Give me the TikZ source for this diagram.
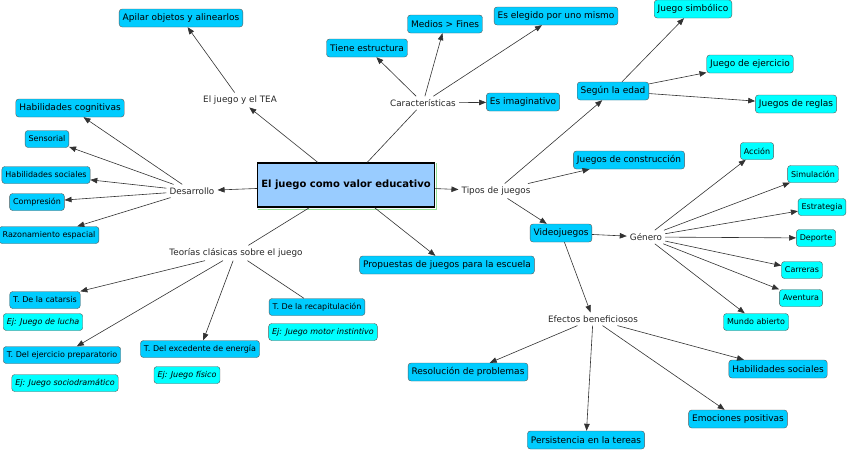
\documentclass[tikz,border=0pt]{standalone}
\usepackage{fontspec}
\setmainfont{DejaVu Sans}
\usetikzlibrary{arrows.meta}
\definecolor{cmBlue}  {RGB}{0,   204, 255}
\definecolor{cmCyan}  {RGB}{0,   255, 255}
\definecolor{cmCore}  {RGB}{153, 204, 255}
\definecolor{cmLine}  {RGB}{50,  50,  50}
\definecolor{cmShadow}{RGB}{150, 225, 150}

\begin{document}
\begin{tikzpicture}[
  x=1pt, y=-1pt,
  box/.style = {
    rectangle, rounded corners=3pt,
    draw=black!65, fill=cmBlue,
    inner xsep=3.5pt, inner ysep=0pt, minimum height=18pt,
    font=\fontsize{9}{10}\selectfont
  },
  small/.style = {box, minimum height=17pt, font=\fontsize{8}{9}\selectfont},
  pale/.style  = {fill=cmCyan},
  ej/.style    = {small, pale, font=\fontsize{8}{9}\selectfont\itshape},
  link/.style  = {inner sep=3pt, text=black!85, font=\fontsize{8.8}{10}\selectfont},
  arr/.style   = {-{Triangle[length=7pt,width=5.5pt]}, cmLine, line width=0.6pt},
  ln/.style    = {cmLine, line width=0.6pt}
]
  \useasboundingbox (0,0) rectangle (848,450);

  % Central concept
  \node[rectangle, draw=black, line width=1.4pt, fill=cmCore,
        minimum width=177pt, minimum height=44pt,
        font=\fontsize{10}{12}\selectfont\bfseries] (c) at (346,185)
        {El juego como valor educativo};
  \draw[cmShadow, line width=1pt]
    ([xshift=1pt,yshift=-1.3pt]c.south west) -- ([xshift=1.3pt,yshift=-1.3pt]c.south east)
    -- ([xshift=1.3pt,yshift=-1pt]c.north east);

  % El juego y el TEA
  \node[link] (tea) at (240,100) {El juego y el TEA};
  \node[box]  (apilar) at (181,18) {Apilar objetos y alinearlos};

  % Caracteristicas
  \node[link] (car) at (423,103) {Características};
  \node[box]  (estr) at (367,48) {Tiene estructura};
  \node[box]  (medios) at (445,24) {Medios > Fines};
  \node[box]  (elegido) at (556,16) {Es elegido por uno mismo};
  \node[box]  (imag) at (523,102) {Es imaginativo};

  % Desarrollo
  \node[link]  (des) at (192,191) {Desarrollo};
  \node[box]   (cogn) at (70,108) {Habilidades cognitivas};
  \node[small] (sens) at (47,139) {Sensorial};
  \node[small] (socA) at (46,175) {Habilidades sociales};
  \node[small] (comp) at (37,202) {Compresión};
  \node[small] (razo) at (49,235) {Razonamiento espacial};

  % Teorias clasicas
  \node[link]  (teo) at (236,253) {Teorías clásicas sobre el juego};
  \node[small] (cata) at (45,300) {T. De la catarsis};
  \node[ej]    (ejA) at (43,322) {Ej: Juego de lucha};
  \node[small] (prep) at (62,355) {T. Del ejercicio preparatorio};
  \node[ej]    (ejB) at (65,383) {Ej: Juego sociodramático};
  \node[small] (exce) at (200,349) {T. Del excedente de energía};
  \node[ej]    (ejC) at (187,375) {Ej: Juego físico};
  \node[small] (reca) at (317,307) {T. De la recapitulación};
  \node[ej]    (ejD) at (323,332) {Ej: Juego motor instintivo};

  \node[box] (prop) at (447,265) {Propuestas de juegos para la escuela};

  % Tipos de juegos
  \node[link] (tip) at (496,191) {Tipos de juegos};
  \node[box]  (edad) at (613,91) {Según la edad};
  \node[box, pale] (simb) at (693,9) {Juego simbólico};
  \node[box, pale] (ejer) at (750,64) {Juego de ejercicio};
  \node[box, pale] (regl) at (796,104) {Juegos de reglas};
  \node[box]  (cons) at (629,160) {Juegos de construcción};
  \node[box]  (vid) at (561,233) {Videojuegos};

  % Genero
  \node[link] (gen) at (646,237) {Género};
  \node[small, pale] (acc) at (757,151) {Acción};
  \node[small, pale] (sim) at (813,174) {Simulación};
  \node[small, pale] (est) at (822,207) {Estrategia};
  \node[small, pale] (dep) at (816,238) {Deporte};
  \node[small, pale] (car2) at (802,270) {Carreras};
  \node[small, pale] (ave) at (801,298) {Aventura};
  \node[small, pale] (mun) at (756,322) {Mundo abierto};

  % Efectos beneficiosos
  \node[link] (efe) at (593,319) {Efectos beneficiosos};
  \node[box]  (reso) at (468,372) {Resolución de problemas};
  \node[box]  (pers) at (586,440) {Persistencia en la tereas};
  \node[box]  (emoc) at (738,419) {Emociones positivas};
  \node[box]  (socB) at (778,369) {Habilidades sociales};

  % Connectors
  \draw[arr] (c) -- (tea);
  \draw[arr] (tea) -- (apilar);
  \draw[ln]  (c) -- (car);
  \draw[arr] (car) -- (estr);
  \draw[arr] (car) -- (medios);
  \draw[arr] (car) -- (elegido);
  \draw[arr] (car) -- (imag);
  \draw[arr] (c) -- (des);
  \draw[arr] (des) -- (cogn);
  \draw[arr] (des) -- (sens);
  \draw[arr] (des) -- (socA);
  \draw[arr] (des) -- (comp);
  \draw[arr] (des) -- (razo);
  \draw[ln]  (c) -- (teo);
  \draw[arr] (teo) -- (cata);
  \draw[arr] (teo) -- (prep);
  \draw[arr] (teo) -- (exce);
  \draw[ln]  (teo) -- (reca);
  \draw[arr] (c) -- (prop);
  \draw[arr] (c) -- (tip);
  \draw[arr] (tip) -- (edad);
  \draw[arr] (edad) -- (simb);
  \draw[arr] (edad) -- (ejer);
  \draw[arr] (edad) -- (regl);
  \draw[arr] (tip) -- (cons);
  \draw[arr] (tip) -- (vid);
  \draw[arr] (vid) -- (gen);
  \draw[arr] (gen) -- (acc);
  \draw[arr] (gen) -- (sim);
  \draw[arr] (gen) -- (est);
  \draw[arr] (gen) -- (dep);
  \draw[arr] (gen) -- (car2);
  \draw[arr] (gen) -- (ave);
  \draw[arr] (gen) -- (mun);
  \draw[arr] (vid) -- (efe);
  \draw[arr] (efe) -- (reso);
  \draw[arr] (efe) -- (pers);
  \draw[arr] (efe) -- (emoc);
  \draw[arr] (efe) -- (socB);
\end{tikzpicture}
\end{document}
